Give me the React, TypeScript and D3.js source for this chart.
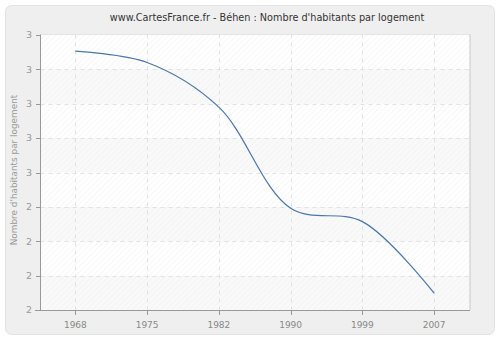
import React from "react";
import * as d3 from "d3";

const years = ["1968", "1975", "1982", "1990", "1999", "2007"];
const values = [2.953, 2.92, 2.79, 2.496, 2.457, 2.249];
const yTicks = [2.2, 2.3, 2.4, 2.5, 2.6, 2.7, 2.8, 2.9, 3.0];
const yTickLabels = ["2", "2", "2", "2", "3", "3", "3", "3", "3"];

export default function App() {
  const W = 500, H = 340;
  const left = 40.5, right = 470, top = 34.5, bottom = 310;
  const x = d3.scalePoint<string>().domain(years).range([39.5, 470]).padding(0.5);
  const y = d3.scaleLinear().domain([2.2, 3.0]).range([bottom, top + 0.5]);
  const line = d3
    .line<number>()
    .x((_, i) => x(years[i]) as number)
    .y((d) => y(d))
    .curve(d3.curveCatmullRom.alpha(0.5));
  const font = "DejaVu Sans, Verdana, sans-serif";
  const bands = yTicks.slice(0, -1).map((t, i) => ({ y0: y(yTicks[i + 1]), y1: y(t), i }));
  return (
    <svg width={W} height={H} style={{ display: "block", position: "absolute", left: 0, top: 0 }}>
      <defs>
        <pattern id="hatch" width="4" height="4" patternUnits="userSpaceOnUse" patternTransform="rotate(45)">
          <line x1="0" y1="0" x2="0" y2="4" stroke="#eeeeee" strokeWidth="1.2" />
        </pattern>
      </defs>
      <rect x={0} y={0} width={W} height={H} fill="#ffffff" />
      <rect x={5.5} y={5.5} width={489} height={329} rx={6} fill="#efefef" stroke="#e2e2e2" />
      <rect x={left} y={top} width={right - left} height={bottom - top} fill="#ffffff" />
      {bands.map((b) => (
        <rect key={b.i} x={left} y={b.y0} width={right - left} height={b.y1 - b.y0} fill={(7 - b.i) % 2 === 0 ? "#ffffff" : "#f9f9f9"} />
      ))}
      <rect x={left} y={top} width={right - left} height={bottom - top} fill="url(#hatch)" opacity={0.8} />
      <line x1={left} x2={right} y1={top} y2={top} stroke="#e4e4e4" strokeWidth={1} />
      <line x1={right} x2={right} y1={top} y2={bottom} stroke="#c8c8c8" strokeWidth={1} />
      {yTicks.slice(1, -1).map((t) => (
        <line key={t} x1={left} x2={right} y1={Math.round(y(t)) + 0.5} y2={Math.round(y(t)) + 0.5} stroke="#e2e2e2" strokeDasharray="4,4" />
      ))}
      {years.map((yr) => (
        <line key={yr} x1={Math.round(x(yr) as number) + 0.5} x2={Math.round(x(yr) as number) + 0.5} y1={top} y2={bottom} stroke="#e2e2e2" strokeDasharray="4,4" />
      ))}
      <path d={line(values) || ""} fill="none" stroke="#4a76a8" strokeWidth={1.2} />
      <line x1={left} x2={left} y1={top} y2={bottom} stroke="#999" />
      <line x1={35} x2={right} y1={bottom + 0.5} y2={bottom + 0.5} stroke="#999" />
      {yTicks.map((t, i) => (
        <g key={t}>
          <line x1={36} x2={left} y1={Math.round(y(t)) + 0.5} y2={Math.round(y(t)) + 0.5} stroke="#999" />
          <text x={32} y={y(t)} dy="0.35em" textAnchor="end" fontFamily={font} fontSize={9.5} fill="#999">
            {yTickLabels[i]}
          </text>
        </g>
      ))}
      {years.map((yr) => (
        <g key={yr}>
          <line x1={Math.round(x(yr) as number) + 0.5} x2={Math.round(x(yr) as number) + 0.5} y1={bottom} y2={bottom + 5} stroke="#999" />
          <text x={x(yr)} y={327.5} textAnchor="middle" fontFamily={font} fontSize={9} fill="#888">
            {yr}
          </text>
        </g>
      ))}
      <text x={267} y={21} textAnchor="middle" fontFamily={font} fontSize={9.7} fill="#333">
        www.CartesFrance.fr - Béhen : Nombre d'habitants par logement
      </text>
      <text transform={`translate(16.5,170) rotate(-90)`} textAnchor="middle" fontFamily={font} fontSize={8.9} fill="#999">
        Nombre d'habitants par logement
      </text>
    </svg>
  );
}
